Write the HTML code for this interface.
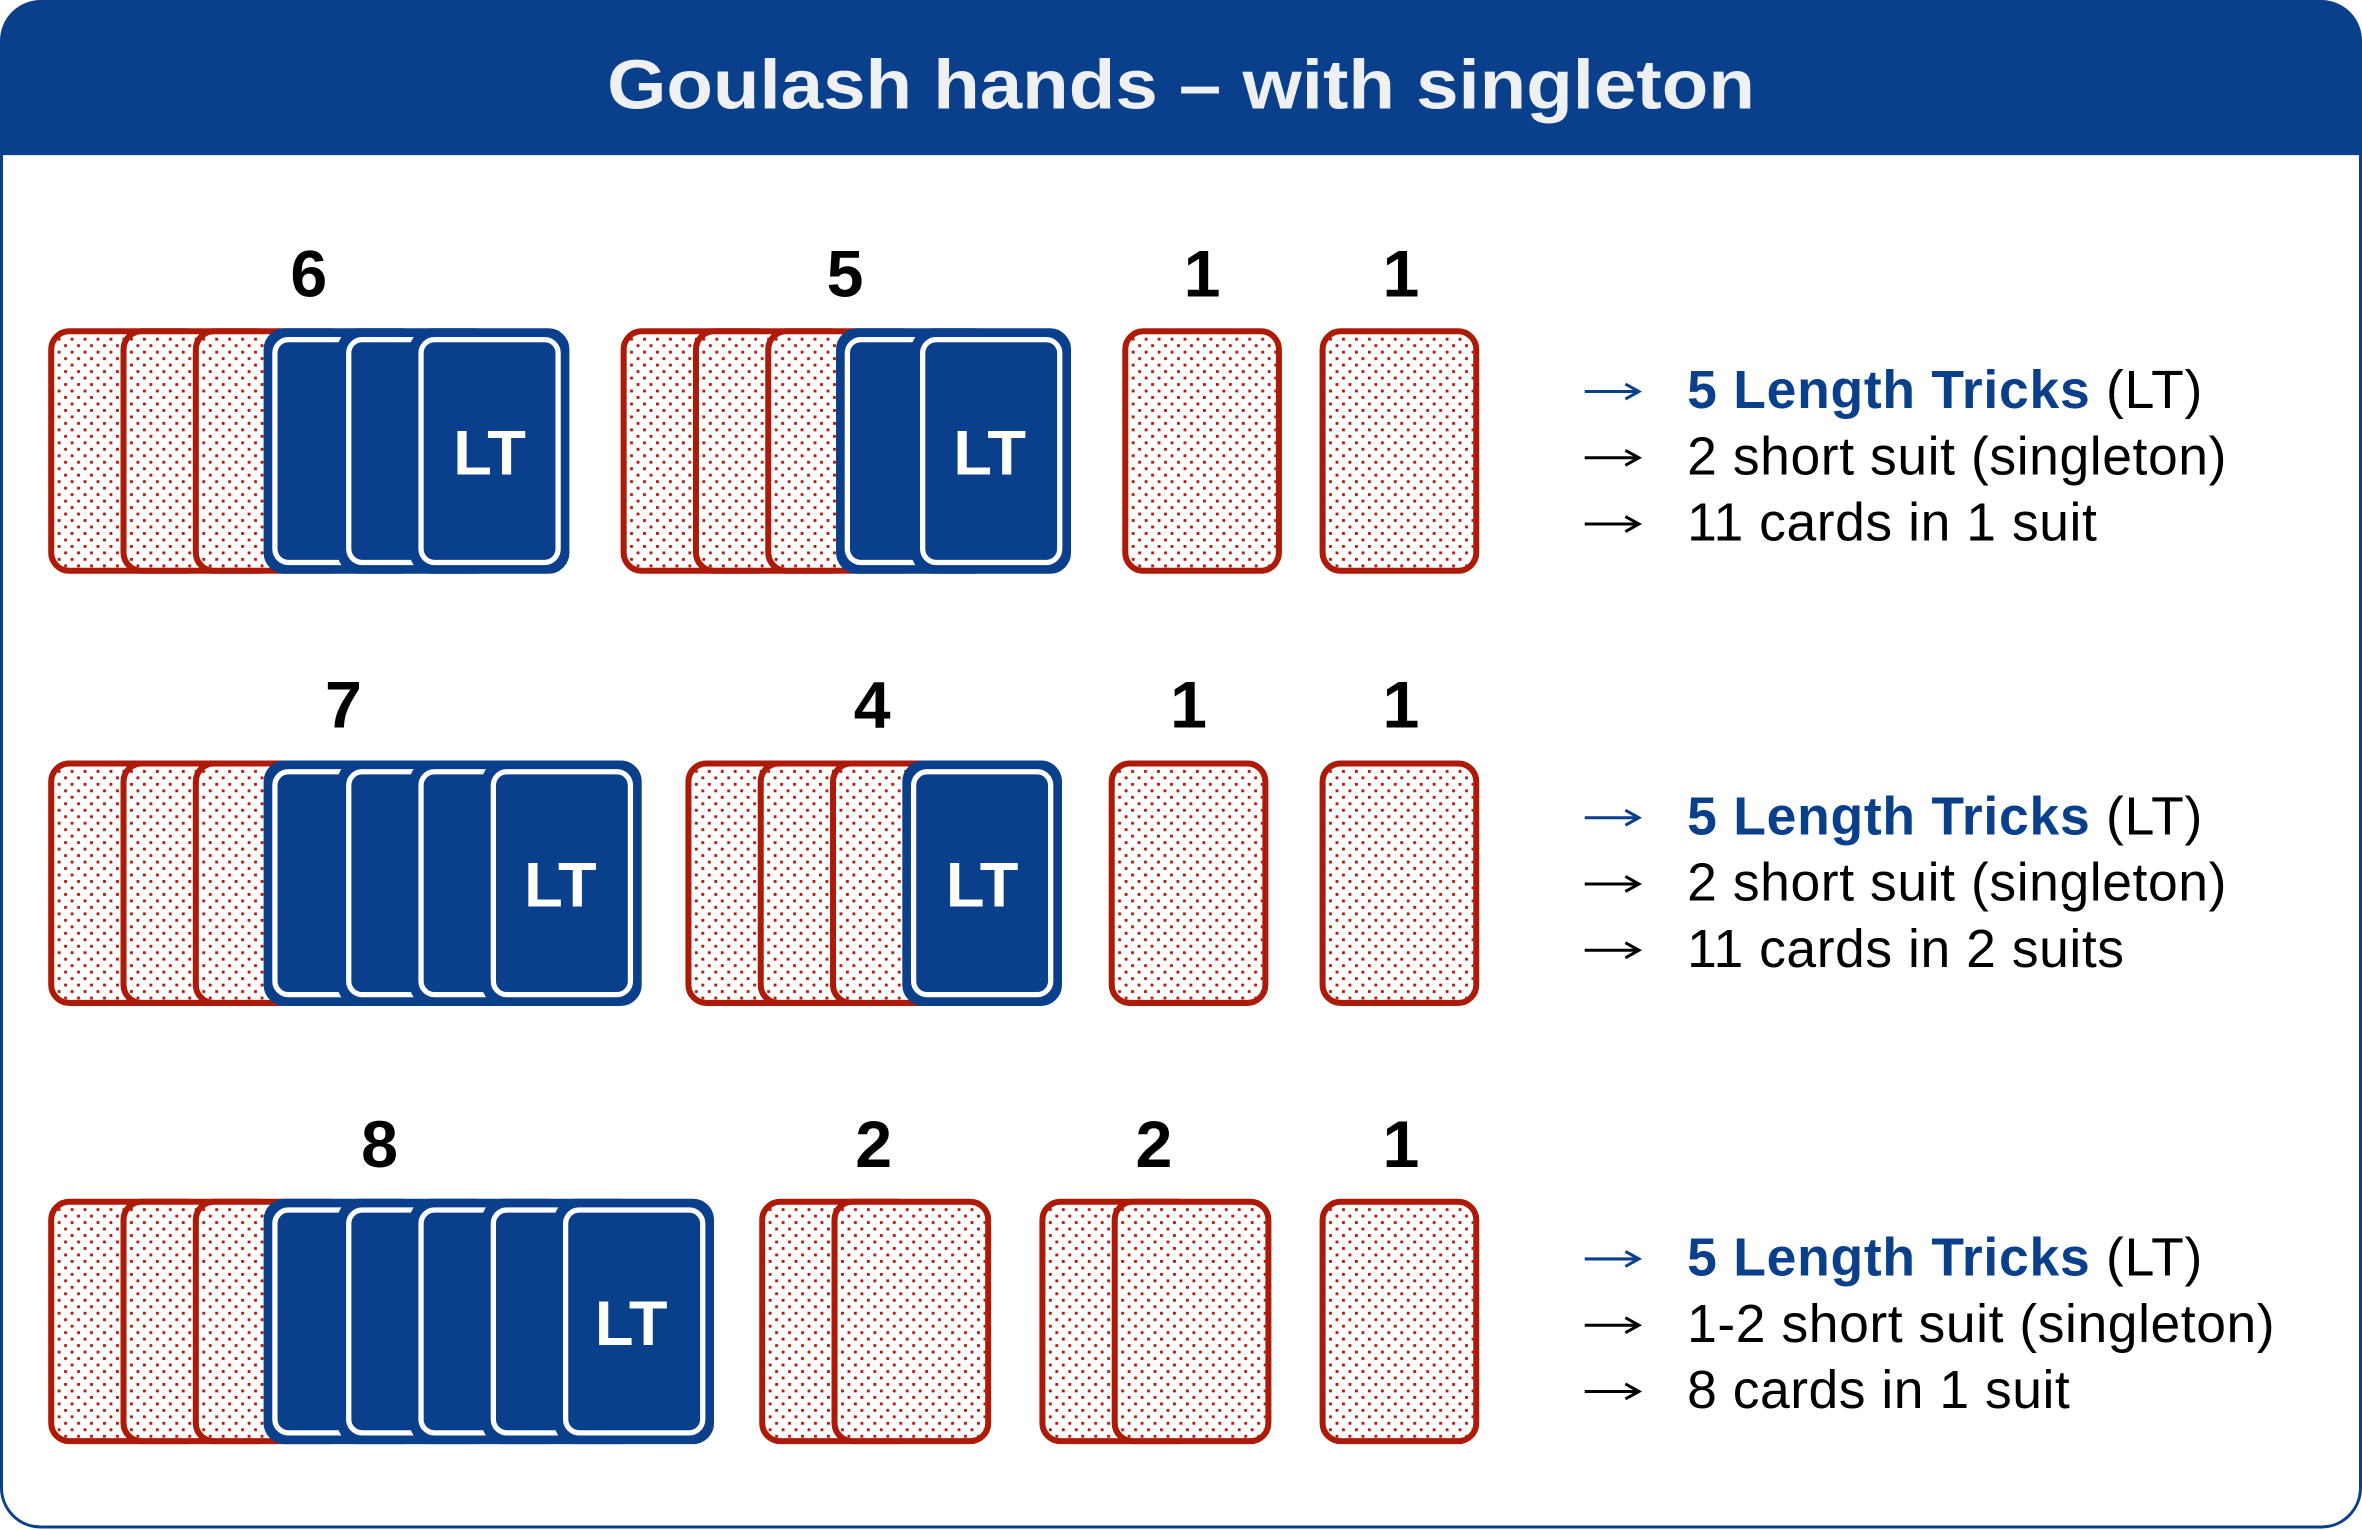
<!DOCTYPE html>
<html><head><meta charset="utf-8"><style>
html,body{margin:0;padding:0;background:#fff;}
svg{display:block;}
</style></head><body>
<svg width="2362" height="1530" viewBox="0 0 1568 1016" preserveAspectRatio="none" xmlns="http://www.w3.org/2000/svg">
<defs>
<pattern id="dots" width="8.6" height="8.6" patternUnits="userSpaceOnUse">
<rect x="1" y="1" width="1.9" height="1.9" fill="#b5190a"/>
<rect x="5.3" y="5.3" width="1.9" height="1.9" fill="#b5190a"/>
</pattern>
<g id="red"><rect x="1" y="1" width="102" height="159" rx="12" fill="#fff" stroke="#ad1a08" stroke-width="4"/><rect x="3" y="3" width="98" height="155" rx="10" fill="url(#dots)"/></g>
<g id="blue"><rect x="1" y="1" width="102" height="159" rx="12" fill="#0a3f8c" stroke="#0a3f8c" stroke-width="4"/><rect x="6.5" y="6.5" width="91" height="148" rx="9" fill="#0a3f8c" stroke="#fff" stroke-width="3.5"/></g>
<g id="arr"><line x1="0" y1="0" x2="34" y2="0" stroke-width="2"/><path d="M27 -5 L36 0 L27 5" fill="none" stroke-width="2"/></g>
</defs>
<rect x="1" y="1" width="1566" height="1013" rx="26" fill="#fff" stroke="#0a3f8c" stroke-width="2"/>
<path d="M1 103 V27 A26 26 0 0 1 27 1 H1541 A26 26 0 0 1 1567 27 V103 Z" fill="#0a3f8c"/>
<text x="784" y="72" text-anchor="middle" font-family="Liberation Sans, sans-serif" font-weight="bold" font-size="46" fill="#eef0f4" textLength="762" lengthAdjust="spacingAndGlyphs">Goulash hands – with singleton</text>

<g font-family="Liberation Sans, sans-serif" font-weight="bold" font-size="44" fill="#000" text-anchor="middle">
<text x="205" y="197">6</text><text x="561" y="197">5</text><text x="798" y="197">1</text><text x="930" y="197">1</text>
<text x="228" y="483">7</text><text x="579" y="483">4</text><text x="789" y="483">1</text><text x="930" y="483">1</text>
<text x="252" y="775">8</text><text x="580" y="775">2</text><text x="766" y="775">2</text><text x="930" y="775">1</text>
</g>

<g transform="translate(0,219)">
<use href="#red" x="33"/><use href="#red" x="81"/><use href="#red" x="129"/>
<use href="#blue" x="176"/><use href="#blue" x="225"/><use href="#blue" x="273"/>
<use href="#red" x="413"/><use href="#red" x="461"/><use href="#red" x="509"/>
<use href="#blue" x="556"/><use href="#blue" x="606"/>
<use href="#red" x="746"/><use href="#red" x="877"/>
</g>
<g transform="translate(0,506)">
<use href="#red" x="33"/><use href="#red" x="81"/><use href="#red" x="129"/>
<use href="#blue" x="176"/><use href="#blue" x="225"/><use href="#blue" x="273"/><use href="#blue" x="321"/>
<use href="#red" x="456"/><use href="#red" x="504"/><use href="#red" x="552"/>
<use href="#blue" x="600"/>
<use href="#red" x="737"/><use href="#red" x="877"/>
</g>
<g transform="translate(0,797)">
<use href="#red" x="33"/><use href="#red" x="81"/><use href="#red" x="129"/>
<use href="#blue" x="176"/><use href="#blue" x="225"/><use href="#blue" x="273"/><use href="#blue" x="321"/><use href="#blue" x="369"/>
<use href="#red" x="505"/><use href="#red" x="553"/>
<use href="#red" x="691"/><use href="#red" x="739"/>
<use href="#red" x="877"/>
</g>

<g font-family="Liberation Sans, sans-serif" font-weight="bold" font-size="42" fill="#fff" text-anchor="middle">
<text x="325" y="315">LT</text>
<text x="657" y="315">LT</text>
<text x="372" y="602">LT</text>
<text x="652" y="602">LT</text>
<text x="419" y="893">LT</text>
</g>

<g stroke="#000">
<use href="#arr" x="1052" y="260" stroke="#0a3f8c"/><use href="#arr" x="1052" y="304"/><use href="#arr" x="1052" y="348"/>
<use href="#arr" x="1052" y="543" stroke="#0a3f8c"/><use href="#arr" x="1052" y="587"/><use href="#arr" x="1052" y="631"/>
<use href="#arr" x="1052" y="836" stroke="#0a3f8c"/><use href="#arr" x="1052" y="880"/><use href="#arr" x="1052" y="924"/>
</g>

<g font-family="Liberation Sans, sans-serif" font-size="35.5" fill="#000">
<text x="1120" y="271" textLength="342"><tspan font-weight="bold" fill="#0a3f8c">5 Length Tricks</tspan> (LT)</text>
<text x="1120" y="315" textLength="358">2 short suit (singleton)</text>
<text x="1120" y="359" textLength="272">11 cards in 1 suit</text>
<text x="1120" y="554" textLength="342"><tspan font-weight="bold" fill="#0a3f8c">5 Length Tricks</tspan> (LT)</text>
<text x="1120" y="598" textLength="358">2 short suit (singleton)</text>
<text x="1120" y="642" textLength="290">11 cards in 2 suits</text>
<text x="1120" y="847" textLength="342"><tspan font-weight="bold" fill="#0a3f8c">5 Length Tricks</tspan> (LT)</text>
<text x="1120" y="891" textLength="390">1-2 short suit (singleton)</text>
<text x="1120" y="935" textLength="254">8 cards in 1 suit</text>
</g>
</svg>
</body></html>
